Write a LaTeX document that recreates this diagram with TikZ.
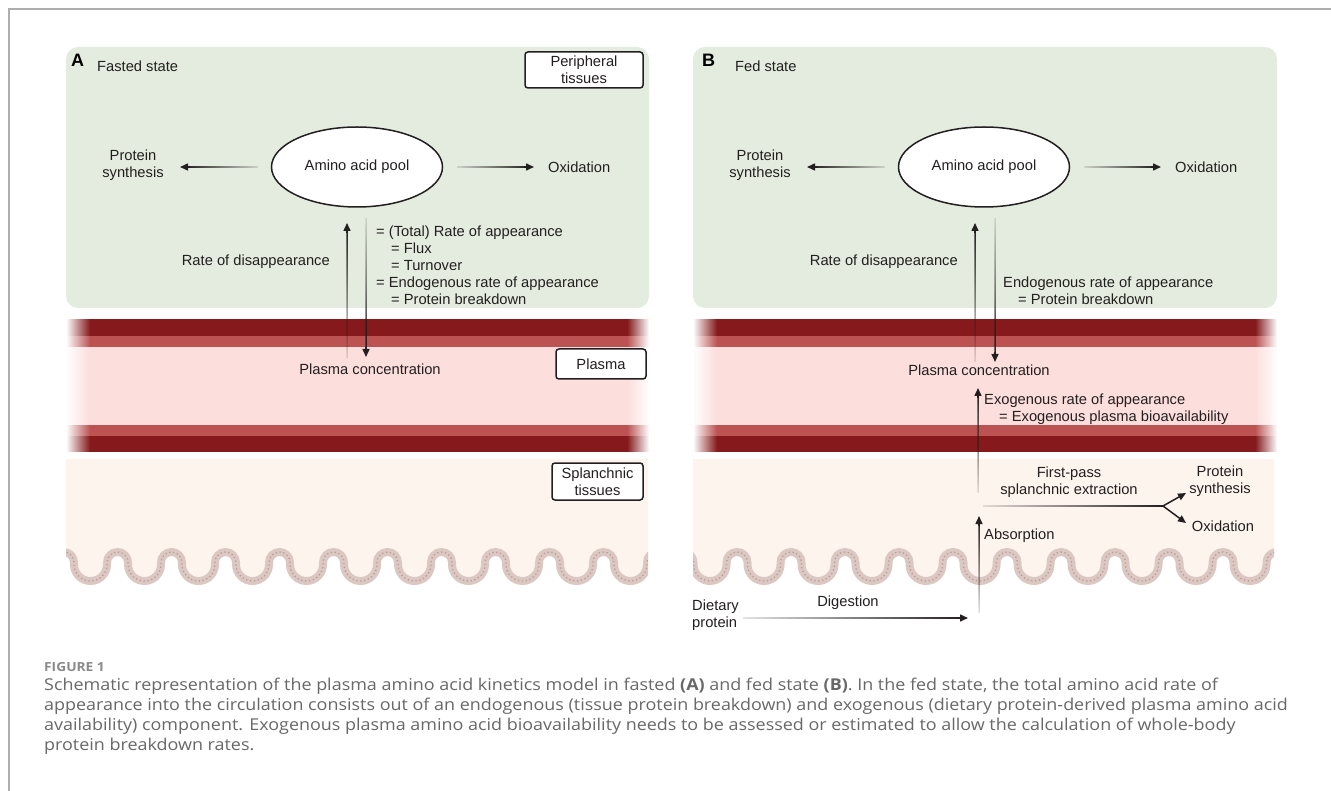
\documentclass[tikz,border=0pt]{standalone}
\usepackage{fontspec}
\setmainfont{Liberation Sans}
\newfontfamily\capfont{Open Sans}[FakeStretch=1.1]
\usetikzlibrary{shapes.geometric,arrows.meta,calc,fadings}

\definecolor{ink}{HTML}{231F20}
\definecolor{greenbg}{HTML}{E4ECDF}
\definecolor{darkred}{HTML}{85191B}
\definecolor{midred}{HTML}{BC5252}
\definecolor{plasmac}{HTML}{FCDEDC}
\definecolor{peach}{HTML}{FEF4EE}
\definecolor{villus}{HTML}{DCC8C3}
\definecolor{villdot}{HTML}{BE9A94}
\definecolor{capgray}{HTML}{686868}
\definecolor{figgray}{HTML}{8A8A8A}
\definecolor{framegray}{HTML}{AEAEAE}

\tikzfading[name=fromL, left color=transparent!88, middle color=transparent!0, right color=transparent!0]
\tikzfading[name=fromR, left color=transparent!0, middle color=transparent!0, right color=transparent!88]
\tikzfading[name=fromB, bottom color=transparent!88, middle color=transparent!0, top color=transparent!0]
\tikzfading[name=fromT, bottom color=transparent!0, middle color=transparent!0, top color=transparent!88]
\tikzfading[name=endL, left color=transparent!0, right color=transparent!100]
\tikzfading[name=endR, left color=transparent!100, right color=transparent!0]

\tikzset{
  lbl/.style={font=\fontsize{14.7}{17}\selectfont, text=ink, inner sep=0pt},
  boxlbl/.style={lbl, draw=ink, fill=white, line width=1.5, rounded corners=3, align=center},
  pool/.style={ellipse, draw=ink, line width=1.5, fill=white, minimum width=171, minimum height=80, lbl},
  arrowtip/.style={ink, line width=1.5, line join=round, -{Triangle[length=8pt,width=7pt]}},
  panel/.style={fill=greenbg, rounded corners=12},
  panellbl/.style={font=\bfseries\fontsize{18}{18}\selectfont, text=black, inner sep=0pt},
  captext/.style={font=\capfont\fontsize{16.3}{18}\selectfont, text=capgray, inner sep=0pt, anchor=base west},
}

% faded line from #1 to #2 (no tip), fading #3
\newcommand\fline[3]{%
  \begin{scope}
    \clip ($(#1)!0.75pt!90:(#2)$) rectangle ($(#2)!0.75pt!90:(#1)$);
    \fill[ink, path fading=#3] ($(#1)!60pt!90:(#2)$) rectangle ($(#2)!60pt!90:(#1)$);
  \end{scope}
}
% faded connector: tail, head, fading
\newcommand\fconn[3]{%
  \coordinate (fcEnd) at ($(#2)!5pt!(#1)$);
  \fline{#1}{fcEnd}{#3}
  \draw[arrowtip] ($(#2)!10pt!(#1)$) -- (#2);
}
% villi: narrow crests (r 10.5), wide troughs (r 16.5), period 54
\newcommand\villi{\foreach \k in {1,...,13} { arc[start angle=180,end angle=360,radius=10.5] -- ++(0,2) arc[start angle=180,end angle=0,radius=16.5] -- ++(0,-2) }}
\newcommand\vessel[2]{%
  \fill[darkred] (#1,319) rectangle (#2,336);
  \fill[midred] (#1,336) rectangle (#2,347);
  \fill[plasmac] (#1,347) rectangle (#2,425);
  \fill[midred] (#1,425) rectangle (#2,436);
  \fill[darkred] (#1,436) rectangle (#2,452);
  \fill[white, path fading=endL] (#1,318) rectangle (#1+24,453);
  \fill[white, path fading=endR] (#2-22,318) rectangle (#2,453);
}

\begin{document}
\begin{tikzpicture}[x=1pt,y=-1pt]
\useasboundingbox (0,0) rectangle (1331,791);
\fill[white] (0,0) rectangle (1331,791);
\draw[framegray, line width=1.2] (9,791) -- (9,9) -- (1331,9);

% ---------- backgrounds ----------
\fill[panel] (66,47) rectangle (649,308);
\fill[panel] (693,47) rectangle (1277,308);
\vessel{66}{649}
\vessel{693}{1277}

\begin{scope}
  \clip (66,455) rectangle (648,600);
  \fill[peach] (40,459) -- (40,562.5) -- (53,562.5) \villi -- (780,562.5) -- (780,459) -- cycle;
  \draw[villus, line width=8] (53,562.5) \villi;
  \draw[villdot, line width=1.3, dash pattern=on 1.3 off 2.6] (53,562.5) \villi;
\end{scope}
\begin{scope}
  \clip (693,455) rectangle (1274,600);
  \fill[peach] (660,459) -- (660,562.5) -- (672.5,562.5) \villi -- (1400,562.5) -- (1400,459) -- cycle;
  \draw[villus, line width=8] (672.5,562.5) \villi;
  \draw[villdot, line width=1.3, dash pattern=on 1.3 off 2.6] (672.5,562.5) \villi;
\end{scope}

% ---------- Panel A ----------
\node[panellbl, anchor=base west] (labA) at (71,67) {A};
\node[lbl, anchor=base west] (titA) at (97,72) {Fasted state};
\node[boxlbl, minimum width=118, minimum height=36] (periA) at (584,70) {Peripheral\\tissues};
\node[pool] (poolA) at (357,167) {Amino acid pool};
\node[lbl, align=center] (psA) at (133,165) {Protein\\synthesis};
\node[lbl, anchor=west] (oxA) at (548,167) {Oxidation};
\node[lbl, anchor=base east] (rdA) at (330,266) {Rate of disappearance};
\node[lbl, anchor=base west] (raA1) at (376,237) {= (Total) Rate of appearance};
\node[lbl, anchor=base west] (raA2) at (391,254) {= Flux};
\node[lbl, anchor=base west] (raA3) at (391,271) {= Turnover};
\node[lbl, anchor=base west] (raA4) at (376,288) {= Endogenous rate of appearance};
\node[lbl, anchor=base west] (raA5) at (391,305) {= Protein breakdown};
\node[lbl] (pcA) at (370,369) {Plasma concentration};
\node[boxlbl, minimum width=90, minimum height=30] (plA) at (601,364) {Plasma};
\node[boxlbl, minimum width=91, minimum height=37] (spA) at (597.5,481.5) {Splanchnic\\tissues};

\coordinate (psAt) at (258,167);  \coordinate (psAh) at (180,167);
\coordinate (oxAt) at (457,167);  \coordinate (oxAh) at (534,167);
\coordinate (rdAt) at (347,358);  \coordinate (rdAh) at (347,223);
\coordinate (raAt) at (366,218);  \coordinate (raAh) at (366,357);
\fconn{psAt}{psAh}{fromR}
\fconn{oxAt}{oxAh}{fromL}
\fconn{rdAt}{rdAh}{fromB}
\fconn{raAt}{raAh}{fromT}

% ---------- Panel B ----------
\node[panellbl, anchor=base west] (labB) at (702,67) {B};
\node[lbl, anchor=base west] (titB) at (735,72) {Fed state};
\node[pool] (poolB) at (984,167) {Amino acid pool};
\node[lbl, align=center] (psB) at (760,165) {Protein\\synthesis};
\node[lbl, anchor=west] (oxB) at (1175,167) {Oxidation};
\node[lbl, anchor=base east] (rdB) at (958,266) {Rate of disappearance};
\node[lbl, anchor=base west] (raB1) at (1003,288) {Endogenous rate of appearance};
\node[lbl, anchor=base west] (raB2) at (1018,305) {= Protein breakdown};
\node[lbl] (pcB) at (979,370) {Plasma concentration};
\node[lbl, anchor=base west] (exB1) at (984,405) {Exogenous rate of appearance};
\node[lbl, anchor=base west] (exB2) at (999,422) {= Exogenous plasma bioavailability};
\node[lbl, align=center] (fpB) at (1069,482) {First-pass\\splanchnic extraction};
\node[lbl, align=center] (ps2B) at (1220,481.5) {Protein\\synthesis};
\node[lbl] (ox2B) at (1223,526) {Oxidation};
\node[lbl, anchor=west] (abB) at (984,536) {Absorption};
\node[lbl] (dgB) at (848,603) {Digestion};
\node[lbl, align=left, anchor=west] (dpB) at (692,615) {Dietary\\protein};

\coordinate (psBt) at (885,167);  \coordinate (psBh) at (807,167);
\coordinate (oxBt) at (1084,167); \coordinate (oxBh) at (1161,167);
\coordinate (rdBt) at (975,362);  \coordinate (rdBh) at (975,223);
\coordinate (raBt) at (995,218);  \coordinate (raBh) at (995,362);
\coordinate (exBt) at (978,493);  \coordinate (exBh) at (978,388);
\coordinate (fpBt) at (983,506);  \coordinate (fork) at (1163,506);
\coordinate (fpPS) at (1186,493); \coordinate (fpOX) at (1186,523);
\coordinate (abBt) at (979,613);  \coordinate (abBh) at (979,516);
\coordinate (dgBt) at (743,618);  \coordinate (dgBh) at (968,618);
\fconn{psBt}{psBh}{fromR}
\fconn{oxBt}{oxBh}{fromL}
\fconn{rdBt}{rdBh}{fromB}
\fconn{raBt}{raBh}{fromT}
\fconn{exBt}{exBh}{fromB}
\fline{fpBt}{fork}{fromL}
\draw[arrowtip] (fork) -- (fpPS);
\draw[arrowtip] (fork) -- (fpOX);
\fconn{abBt}{abBh}{fromB}
\fconn{dgBt}{dgBh}{fromL}

% ---------- caption ----------
\node[captext, font=\capfont\bfseries\fontsize{12.5}{14}\selectfont, text=figgray] (fig) at (44,671) {FIGURE 1};
\node[captext] (c1) at (44,690) {Schematic representation of the plasma amino acid kinetics model in fasted {\bfseries (A)} and fed state {\bfseries (B)}. In the fed state, the total amino acid rate of};
\node[captext] (c2) at (44,710) {appearance into the circulation consists out of an endogenous (tissue protein breakdown) and exogenous (dietary protein-derived plasma amino acid};
\node[captext] (c3) at (44,730) {availability) component. Exogenous plasma amino acid bioavailability needs to be assessed or estimated to allow the calculation of whole-body};
\node[captext] (c4) at (44,750) {protein breakdown rates.};
\end{tikzpicture}
\end{document}
